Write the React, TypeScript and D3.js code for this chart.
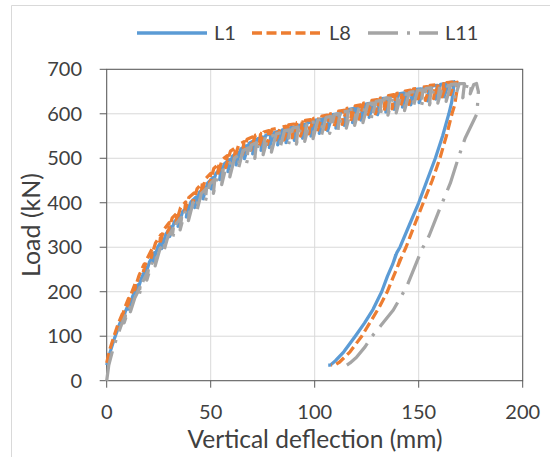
import React from "react";
import * as d3 from "d3";

const xTicks = [0, 50, 100, 150, 200];
const yTicks = [0, 100, 200, 300, 400, 500, 600, 700];
const seriesNames = ["L1", "L8", "L11"];
const seriesColors = ["#5B9BD5", "#ED7D31", "#A5A5A5"];
const seriesDash = ["none", "10 4.5", "30 9 3 9"];
const xTitle = "Vertical deflection (mm)";
const yTitle = "Load (kN)";

// L1: [deflection mm, load kN]
const L1: [number, number][] = [
  [0,35],[1.5,62],[3.5,92],[6,125],[8,148],[7.6,134],[9,156],[11,178],[10.6,161],[12.5,190],[15,215],[14.5,197],[16.5,228],[19,254],[18.4,234],[20.5,266],[23,288],[22.4,268],[24.5,300],[27,318],[26.4,297],[28.5,330],[31,346],[30.3,324],[32.5,357],[35,370],[34.3,347],[36.5,380],[39,392],[38.3,368],[40.5,402],[43,413],[42.3,389],[44.5,423],[47,434],[46.3,409],[48.5,444],[51,456],[50.3,431],[52.5,466],[55,478],[54.3,452],[56.5,487],[59,497],[58.3,470],[60.5,505],[63,513],[62.2,485],[64.5,521],[67,528],[66.2,499],[68.5,534],[71,540],[70.2,510],[72.5,544],[75,548],[74.2,518],[76.5,552],[79,555],[78.2,524],[80.5,558],[83,561],[82.2,530],[84.5,564],[87,566],[86.2,535],[88.5,569],[91,571],[90.2,540],[92.5,574],[95,576],[94.2,545],[96.5,580],[99,582],[98.2,550],[100.5,586],[103,588],[102.2,556],[104.5,592],[107,594],[106.2,562],[108.5,598],[111,600],[110.2,568],[112.5,604],[115,606],[114.2,574],[116.5,610],[119,612],[118.2,580],[120.5,616],[123,618],[122.2,586],[124.5,622],[127,624],[126.2,592],[128.5,628],[131,630],[130.2,598],[132.5,634],[135,636],[134.2,604],[136.5,640],[139,642],[138.2,610],[140.5,645],[143,647],[142.2,615],[144.5,650],[147,652],[146.2,620],[148.5,655],[151,656],[150.2,625],[152.5,659],[155,660],[154.2,629],[156.5,663],[159,664],[158.2,633],[160.5,666],[163,668],[162.2,638],[164.5,670],[167,672],
  [166.6,650],[165.8,625],[164.5,600],[161.5,550],[158,500],[154,450],[150,400],[145.5,350],[141,300],[139.5,288],[138,268],[139,283],[137.5,262],[135,235],[132.2,200],[128,160],[124,130],[119.5,100],[114,65],[110,45],[107.5,35],[106.5,35]
];

const L8: [number, number][] = [
  [0,40],[1.5,70],[3.5,100],[5.5,128],[7.5,150],[7,136],[8.5,162],[10.5,185],[10,168],[12,198],[14,222],[13.4,204],[15.5,236],[18,262],[17.4,242],[19.5,275],[22,298],[21.4,277],[23.5,310],[26,328],[25.4,306],[27.5,340],[30,355],[29.3,332],[31.5,366],[34,378],[33.3,354],[35.5,389],[38,402],[37.3,377],[39.5,412],[42,422],[41.3,397],[43.5,432],[46,444],[45.3,418],[47.5,454],[50,466],[49.3,440],[51.5,477],[54,488],[53.3,461],[55.5,497],[58,506],[57.2,479],[59.5,516],[62,524],[61.2,496],[63.5,531],[66,537],[65.2,508],[67.5,543],[70,548],[69.2,518],[71.5,552],[74,556],[73.2,526],[75.5,559],[78,562],[77.2,531],[79.5,565],[82,567],[81.2,536],[83.5,570],[86,572],[85.2,541],[87.5,575],[90,577],[89.2,546],[91.5,580],[94,582],[93.2,550],[95.5,585],[98,587],[97.2,555],[99.5,590],[102,592],[101.2,560],[103.5,595],[106,597],[105.2,565],[107.5,600],[110,602],[109.2,570],[111.5,606],[114,608],[113.2,576],[115.5,612],[118,614],[117.2,582],[119.5,618],[122,620],[121.2,588],[123.5,624],[126,626],[125.2,594],[127.5,630],[130,632],[129.2,600],[131.5,635],[134,637],[133.2,605],[135.5,641],[138,643],[137.2,611],[139.5,646],[142,648],[141.2,616],[143.5,651],[146,653],[145.2,621],[147.5,656],[150,657],[149.2,626],[151.5,660],[154,661],[153.2,630],[155.5,664],[158,665],[157.2,634],[159.5,667],[162,668],[161.2,638],[163.5,670],[166,671],[165.2,643],[167,669],[168.5,671],
  [168.3,650],[167.3,620],[166,600],[163.3,550],[160.2,500],[156.5,450],[152.2,400],[148,350],[143.9,300],[141.5,275],[140,258],[141,272],[139.5,252],[137.5,230],[134.9,200],[131,165],[126.5,130],[122.6,100],[117,65],[112,42],[109.5,35],[108,35]
];

const L11: [number, number][] = [
  [0,0],[1,35],[2.5,62],[4.5,92],[7,125],[9,146],[8.4,130],[10,154],[12,172],[11.4,155],[13.5,186],[16,210],[15.4,190],[17.5,224],[20,248],[19.3,226],[21.5,262],[24,282],[23.3,258],[25.5,295],[28,313],[27.3,288],[29.5,325],[32,342],[31.3,315],[33.5,354],[36,367],[35.3,339],[37.5,378],[40,390],[39.3,360],[41.5,400],[44,411],[43.3,381],[45.5,421],[48,432],[47.3,401],[49.5,442],[52,453],[51.3,421],[53.5,463],[56,474],[55.3,441],[57.5,483],[60,492],[59.2,458],[61.5,501],[64,509],[63.2,474],[65.5,517],[68,523],[67.2,488],[69.5,530],[72,535],[71.2,500],[73.5,540],[76,544],[75.2,508],[77.5,548],[80,551],[79.2,514],[81.5,555],[84,558],[83.2,521],[85.5,562],[88,564],[87.2,527],[89.5,568],[92,570],[91.2,532],[93.5,574],[96,576],[95.2,538],[97.5,580],[100,582],[99.2,544],[101.5,586],[104,588],[103.2,550],[105.5,592],[108,594],[107.2,556],[109.5,598],[112,600],[111.2,562],[113.5,604],[116,606],[115.2,568],[117.5,610],[120,612],[119.2,574],[121.5,616],[124,618],[123.2,580],[125.5,622],[128,624],[127.2,586],[129.5,628],[132,630],[131.2,592],[133.5,634],[136,635],[135.2,597],[137.5,639],[140,640],[139.2,602],[141.5,644],[144,645],[143.2,607],[145.5,648],[148,650],[147.2,612],[149.5,653],[152,654],[151.2,616],[153.5,657],[156,658],[155.2,620],[157.5,660],[160,661],[159.2,624],[161.5,663],[164,664],[163.2,628],[165.5,666],[168,667],[167.2,632],[169.5,668],[172,668],[171.2,636],[173.5,667],[175.5,668],[174.8,645],[176.5,666],[177.8,668],
  [178.7,650],[178,600],[172.3,545],[169,500],[165.2,444],[160,385],[155.1,327],[151.4,294],[144.2,211],[137.8,159],[132,125],[127.4,99],[124.2,76],[120,52],[117,40],[115.4,35]
];

const seriesData = [L1, L8, L11];

const W = 550;
const H = 457;
const x0 = 106.7, x1 = 522.7, yB = 380.7, yT = 69.3;

export default function App() {
  const x = d3.scaleLinear().domain([0, 200]).range([x0, x1]);
  const y = d3.scaleLinear().domain([0, 700]).range([yB, yT]);
  const line = d3.line<[number, number]>().x(d => x(d[0])).y(d => y(d[1]));
  const font = "Lato, 'Open Sans', sans-serif";
  const textColor = "#404040";
  const legendItems = [
    { lx: 137, tx: 214 },
    { lx: 252, tx: 329 },
    { lx: 368, tx: 445 },
  ];
  return (
    <svg width={W} height={H} style={{ position: "absolute", left: 0, top: 0, background: "#fff" }} fontFamily={font}>
      <line x1={11.5} y1={5.5} x2={W} y2={5.5} stroke="#D9D9D9" strokeWidth={1} />
      <line x1={11.5} y1={5.5} x2={11.5} y2={H} stroke="#D9D9D9" strokeWidth={1} />
      {yTicks.map(t => (
        <line key={"gy" + t} x1={x0} x2={x1} y1={y(t)} y2={y(t)} stroke="#D9D9D9" strokeWidth={1} />
      ))}
      {xTicks.map(t => (
        <line key={"gx" + t} x1={x(t)} x2={x(t)} y1={yT} y2={yB} stroke="#D9D9D9" strokeWidth={1} />
      ))}
      <rect x={x0} y={yT} width={x1 - x0} height={yB - yT} fill="none" stroke="#595959" strokeWidth={1} />
      {yTicks.map(t => (
        <line key={"ty" + t} x1={x0 - 7} x2={x0} y1={y(t)} y2={y(t)} stroke="#595959" strokeWidth={1} />
      ))}
      {xTicks.map(t => (
        <line key={"tx" + t} x1={x(t)} x2={x(t)} y1={yB} y2={yB + 7} stroke="#595959" strokeWidth={1} />
      ))}
      {seriesData.map((d, i) => (
        <path key={seriesNames[i]} d={line(d) || ""} fill="none" stroke={seriesColors[i]} strokeWidth={3.25}
          strokeDasharray={seriesDash[i]} strokeLinejoin="round" />
      ))}
      {yTicks.map(t => (
        <text key={"ly" + t} x={82} y={y(t)} dy="0.35em" textAnchor="end" fontSize={20} fill={textColor}>{t}</text>
      ))}
      {xTicks.map(t => (
        <text key={"lx" + t} x={x(t)} y={419} textAnchor="middle" fontSize={20} fill={textColor}>{t}</text>
      ))}
      <text x={(184 + 446) / 2} y={448} textAnchor="middle" fontSize={24.5} fill={textColor}>{xTitle}</text>
      <text transform={`translate(40,${(yT + yB) / 2}) rotate(-90)`} textAnchor="middle" fontSize={25} fill={textColor}>{yTitle}</text>
      {legendItems.map((it, i) => (
        <g key={"lg" + i}>
          <line x1={it.lx} x2={it.lx + 70} y1={33} y2={33} stroke={seriesColors[i]} strokeWidth={3.5} strokeDasharray={seriesDash[i]} />
          <text x={it.tx} y={33} dy="0.35em" fontSize={20} fill={textColor}>{seriesNames[i]}</text>
        </g>
      ))}
    </svg>
  );
}
